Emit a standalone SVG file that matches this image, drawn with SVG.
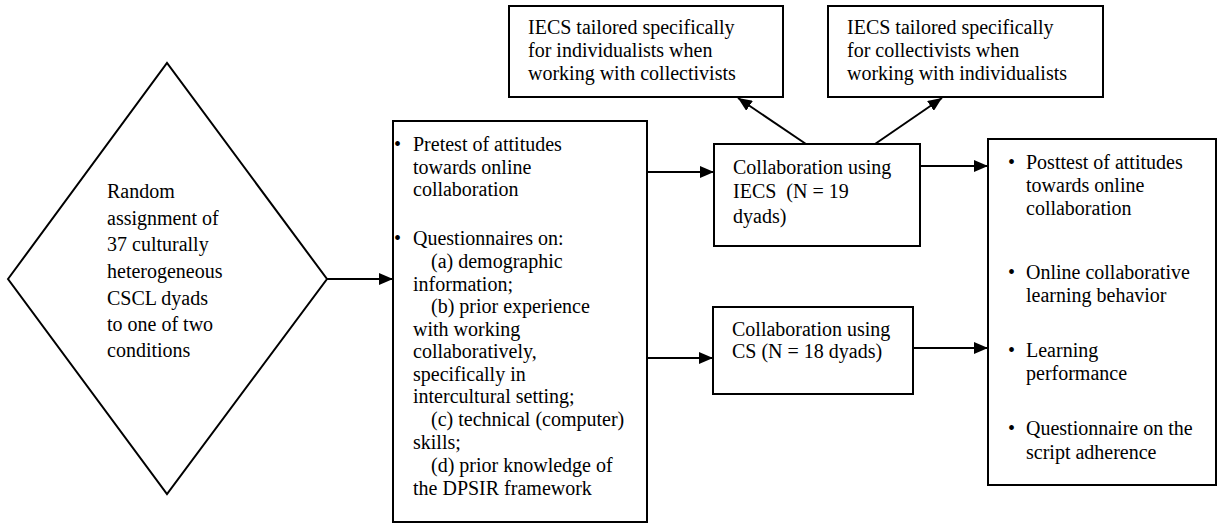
<svg xmlns="http://www.w3.org/2000/svg" width="1218" height="523" viewBox="0 0 1218 523">
<style>
.box{fill:#fff;stroke:#000;stroke-width:2}
.t{font-family:"Liberation Serif","Times New Roman",serif;font-size:20px;fill:#000}
.c{stroke:#000;stroke-width:2;fill:none;marker-end:url(#ah)}
</style>
<defs>
<marker id="ah" markerUnits="userSpaceOnUse" markerWidth="14" markerHeight="12" refX="14" refY="6" orient="auto">
<path d="M0,0 L14,6 L0,12 z" fill="#000"/>
</marker>
</defs>
<rect width="1218" height="523" fill="#fff"/>
<g id="connectors">
<line class="c" x1="327" y1="279" x2="393" y2="279"/>
<line class="c" x1="647" y1="172" x2="714" y2="172"/>
<line class="c" x1="647" y1="358" x2="713" y2="358"/>
<line class="c" x1="920" y1="166" x2="988" y2="166"/>
<line class="c" x1="913" y1="348" x2="988" y2="348"/>
<line class="c" x1="806" y1="144" x2="738" y2="98"/>
<line class="c" x1="875" y1="144" x2="942" y2="98"/>
</g>
<g id="random">
<polygon class="box" points="8,279 167,63 327,279 167,494"/>
<text class="t" x="107"><tspan y="198">Random</tspan><tspan x="107" y="225">assignment of</tspan><tspan x="107" y="251">37 culturally</tspan><tspan x="107" y="278">heterogeneous</tspan><tspan x="107" y="305">CSCL dyads</tspan><tspan x="107" y="331">to one of two</tspan><tspan x="107" y="357">conditions</tspan></text>
</g>
<g id="pretest">
<rect class="box" x="393" y="121" width="254" height="401"/>
<text class="t" x="394" y="151">•</text>
<text class="t" x="394" y="245">•</text>
<text class="t" x="413"><tspan y="151">Pretest of attitudes</tspan><tspan x="413" y="174">towards online</tspan><tspan x="413" y="196">collaboration</tspan><tspan x="413" y="245">Questionnaires on:</tspan><tspan x="431" y="268">(a) demographic</tspan><tspan x="413" y="291">information;</tspan><tspan x="431" y="313">(b) prior experience</tspan><tspan x="413" y="336">with working</tspan><tspan x="413" y="358">collaboratively,</tspan><tspan x="413" y="381">specifically in</tspan><tspan x="413" y="403">intercultural setting;</tspan><tspan x="431" y="426">(c) technical (computer)</tspan><tspan x="413" y="449">skills;</tspan><tspan x="431" y="472">(d) prior knowledge of</tspan><tspan x="413" y="495">the DPSIR framework</tspan></text>
</g>
<g id="iecs-individualists">
<rect class="box" x="509" y="6" width="274" height="91"/>
<text class="t" x="528"><tspan y="34">IECS tailored specifically</tspan><tspan x="528" y="57">for individualists when</tspan><tspan x="528" y="80">working with collectivists</tspan></text>
</g>
<g id="iecs-collectivists">
<rect class="box" x="828" y="6" width="275" height="91"/>
<text class="t" x="847"><tspan y="34">IECS tailored specifically</tspan><tspan x="847" y="57">for collectivists when</tspan><tspan x="847" y="80">working with individualists</tspan></text>
</g>
<g id="collab-iecs">
<rect class="box" x="714" y="144" width="206" height="102"/>
<text class="t" x="733" xml:space="preserve"><tspan y="174">Collaboration using</tspan><tspan x="733" y="198">IECS  (N = 19</tspan><tspan x="733" y="223">dyads)</tspan></text>
</g>
<g id="collab-cs">
<rect class="box" x="713" y="307" width="200" height="87"/>
<text class="t" x="732"><tspan y="336">Collaboration using</tspan><tspan x="732" y="358">CS (N = 18 dyads)</tspan></text>
</g>
<g id="posttest">
<rect class="box" x="988" y="139" width="228" height="346"/>
<text class="t" x="1008" y="169">•</text>
<text class="t" x="1008" y="279">•</text>
<text class="t" x="1008" y="357">•</text>
<text class="t" x="1008" y="435">•</text>
<text class="t" x="1026"><tspan y="169">Posttest of attitudes</tspan><tspan x="1026" y="192">towards online</tspan><tspan x="1026" y="215">collaboration</tspan><tspan x="1026" y="279">Online collaborative</tspan><tspan x="1026" y="302">learning behavior</tspan><tspan x="1026" y="357">Learning</tspan><tspan x="1026" y="380">performance</tspan><tspan x="1026" y="435">Questionnaire on the</tspan><tspan x="1026" y="459">script adherence</tspan></text>
</g>
</svg>
